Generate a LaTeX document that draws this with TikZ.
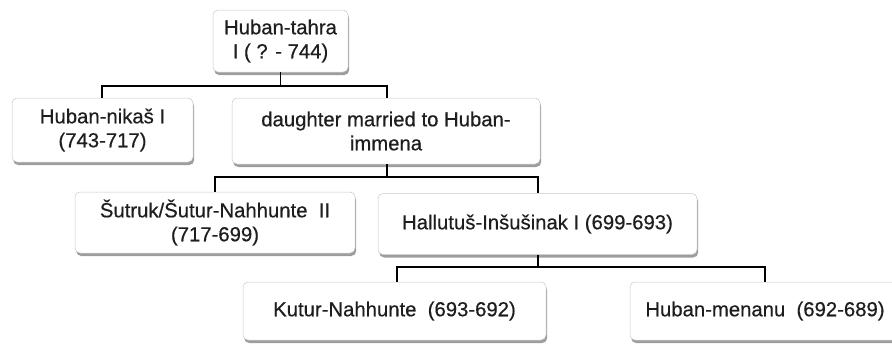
\documentclass[tikz,border=0pt]{standalone}
\usepackage{fontspec}
\setmainfont{Liberation Sans}
\newfontfamily\boxfont[FakeBold=0.5]{Liberation Sans}
\usetikzlibrary{shadows}
\definecolor{txt}{HTML}{1E1E1E}
\definecolor{edge}{HTML}{C8C8C8}
\tikzset{
  box/.style={draw=edge, line width=0.5pt, fill=white, rounded corners=5pt,
    align=center, text=txt, inner sep=2pt,
    font=\boxfont\fontsize{20.3}{24}\selectfont,
    drop shadow={shadow xshift=1.2pt, shadow yshift=-3pt, fill=black!55, opacity=0.7}},
  link/.style={draw=black, line width=1.6pt}
}
\begin{document}
\begin{tikzpicture}[x=1pt,y=-1pt]
\useasboundingbox (0,0) rectangle (892,343);
\node[box, minimum width=135pt, minimum height=62pt] (top) at (280.5,41) {Huban-tahra\\I ( ? - 744)};
\node[box, minimum width=181pt, minimum height=64pt] (nikas) at (102.5,130) {Huban-nika\v{s} I\\(743-717)};
\node[box, minimum width=308pt, minimum height=66pt] (daughter) at (386,131) {daughter married to Huban-\\immena};
\node[box, minimum width=280pt, minimum height=61pt] (sutruk) at (215,222.5) {\v{S}utruk/\v{S}utur-Nahhunte\ \ II\\(717-699)};
\node[box, minimum width=319pt, minimum height=61pt] (hallutus) at (537.5,224) {Hallutu\v{s}-In\v{s}u\v{s}inak I (699-693)};
\node[box, minimum width=303pt, minimum height=58pt] (kutur) at (394.5,311) {Kutur-Nahhunte\ \ (693-692)};
\node[box, minimum width=270pt, minimum height=58pt] (menanu) at (765,311) {Huban-menanu\ \ (692-689)};
% connectors
\coordinate (j1) at (280.5,86);
\coordinate (j2) at (387,177);
\coordinate (j3) at (538,267);
\coordinate (d1) at (102,98);
\coordinate (d2) at (387,98);
\coordinate (d3) at (215,192);
\coordinate (d4) at (538,193);
\coordinate (d5) at (397,282);
\coordinate (d6) at (765,282);
\draw[link] (top.south) -- (j1);
\draw[link] (d1) -- (d1 |- j1) -- (d2 |- j1) -- (d2);
\draw[link] (daughter.south -| j2) -- (j2);
\draw[link] (d3) -- (d3 |- j2) -- (d4 |- j2) -- (d4);
\draw[link] (hallutus.south -| j3) -- (j3);
\draw[link] (d5) -- (d5 |- j3) -- (d6 |- j3) -- (d6);
\end{tikzpicture}
\end{document}
